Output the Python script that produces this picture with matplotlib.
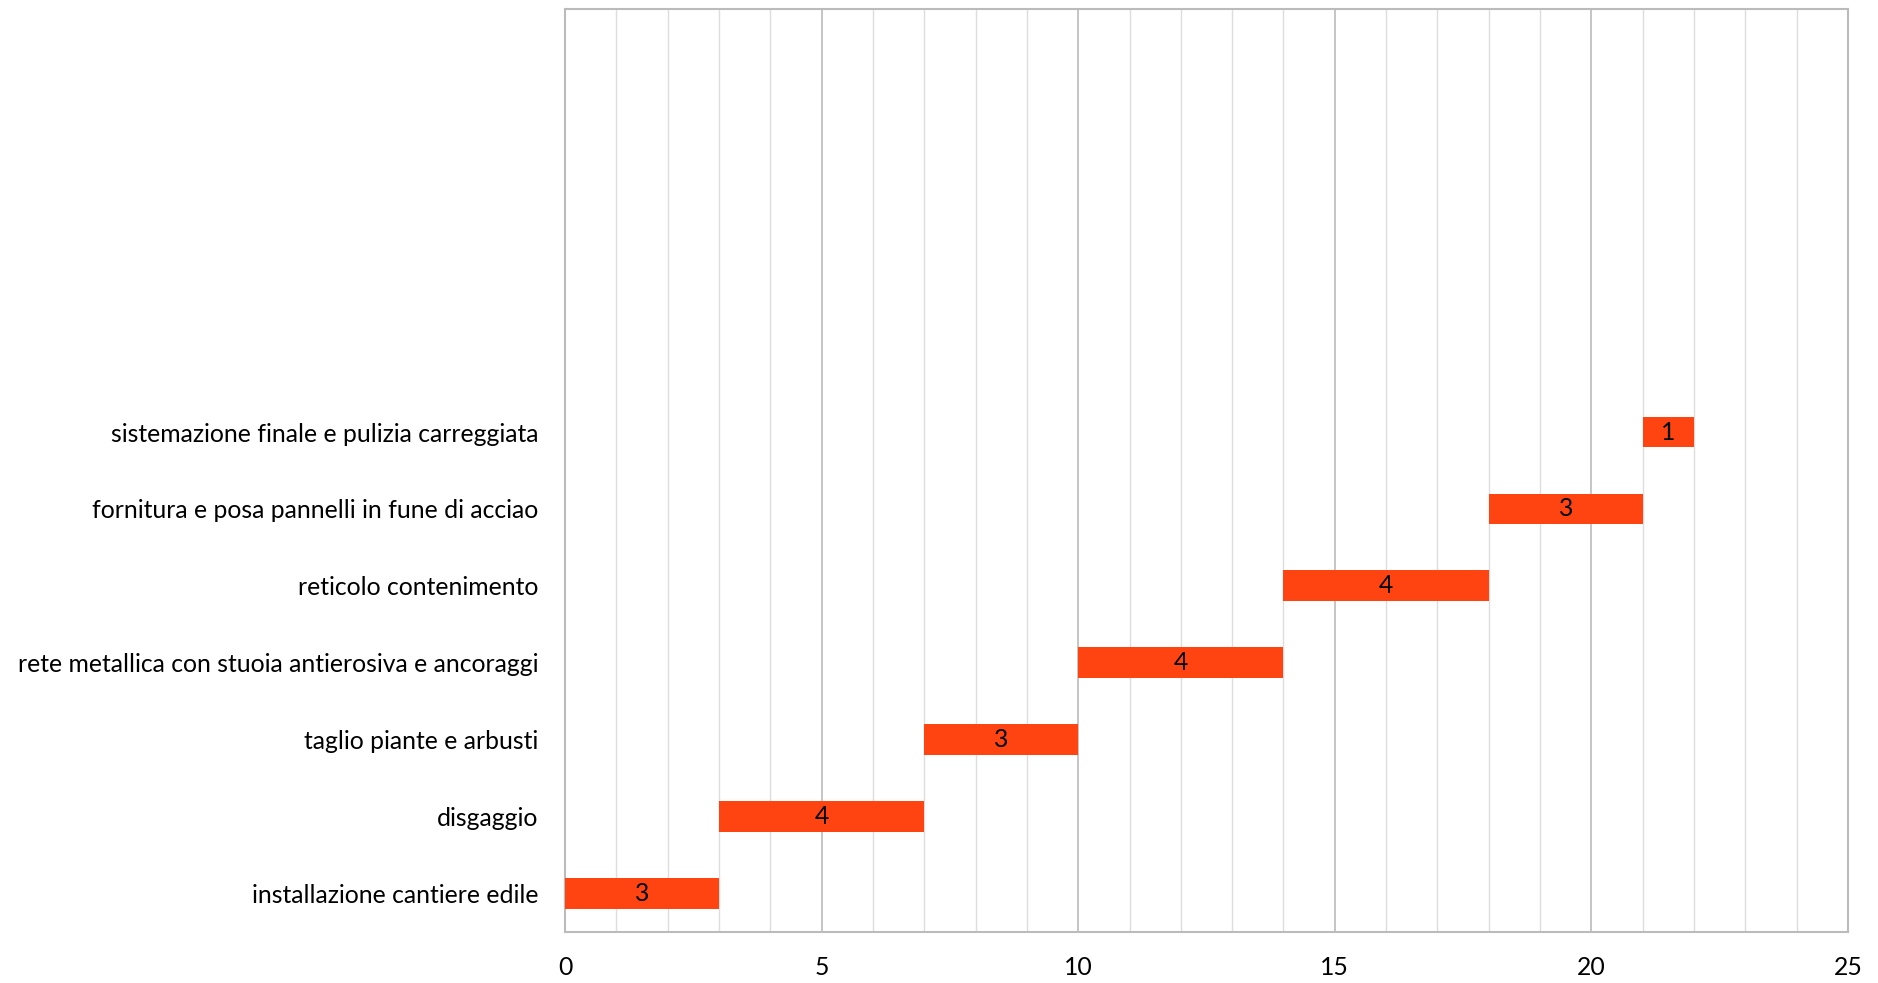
import matplotlib.pyplot as plt
from matplotlib.ticker import MultipleLocator

tasks = [
    "installazione cantiere edile",
    "disgaggio",
    "taglio piante e arbusti",
    "rete metallica con stuoia antierosiva e ancoraggi",
    "reticolo contenimento",
    "fornitura e posa pannelli in fune di acciao",
    "sistemazione finale e pulizia carreggiata",
]
start = [0, 3, 7, 10, 14, 18, 21]
duration = [3, 4, 3, 4, 4, 3, 1]
n_slots = 12  # extra empty rows above the tasks

plt.rcParams["font.family"] = ["Lato", "DejaVu Sans"]
FS = 17.8

fig = plt.figure(figsize=(18.78, 9.83), dpi=100)
ax = fig.add_axes([0.3009, 0.0519, 0.6831, 0.9389])

ypos = list(range(len(tasks)))
ax.barh(ypos, duration, left=start, height=0.4, color="#FF4412", zorder=3)
for y, s, d in zip(ypos, start, duration):
    ax.text(s + d / 2, y, str(d), ha="center", va="center", fontsize=FS, color="black", zorder=4)

ax.set_xlim(0, 25)
ax.set_ylim(-0.5, n_slots - 0.5)
ax.set_yticks(ypos)
ax.set_yticklabels(tasks, fontsize=FS)
ax.xaxis.set_major_locator(MultipleLocator(5))
ax.xaxis.set_minor_locator(MultipleLocator(1))
ax.tick_params(axis="x", which="both", length=0, labelsize=FS, pad=17)
ax.tick_params(axis="y", length=0, pad=19)
ax.grid(axis="x", which="minor", color="#DDDDDD", linewidth=1.0, zorder=0)
ax.grid(axis="x", which="major", color="#BBBBBB", linewidth=1.2, zorder=1)
for side in ax.spines.values():
    side.set_color("#BBBBBB")
    side.set_linewidth(1.5)

fig.savefig("out.png", dpi=100, facecolor="white")
